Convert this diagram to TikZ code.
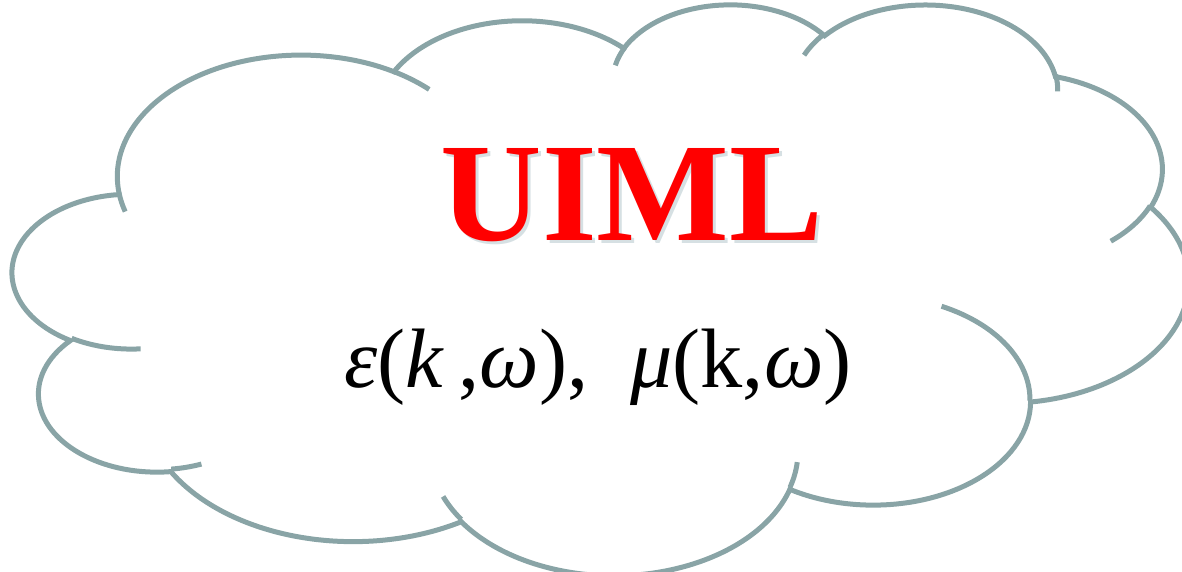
\documentclass[tikz,border=0pt]{standalone}
\usepackage{fontspec}
\setmainfont{Liberation Serif}
\usetikzlibrary{positioning}

\definecolor{cloudgray}{RGB}{137,164,166}
\definecolor{titlered}{RGB}{255,0,0}
\definecolor{titleshade}{RGB}{214,224,227}

\tikzset{
  cloudline/.style={draw=cloudgray,line width=0.1cm},
  title/.style={anchor=base,inner sep=0pt,text=titlered,font=\fontsize{80}{82}\selectfont\bfseries},
  titleshade/.style={title,text=titleshade},
  formula/.style={anchor=base,inner sep=0pt,font=\fontsize{48}{50}\selectfont}
}
% one bump of the cloud: radii, start angle, sweep (visual angles)
\newcommand{\bump}[4]{arc[x radius=#1,y radius=#2,start angle={pa(#1,#2,#3)},end angle={pa(#1,#2,#3+#4)}]}

\begin{document}
\begin{tikzpicture}[x=0.02cm,y=-0.02cm,
  declare function={pa(\rw,\rh,\ang)=atan2(\rw*sin(\ang),\rh*cos(\ang))+360*round((\ang-atan2(\rw*sin(\ang),\rh*cos(\ang)))/360);}]
  \useasboundingbox (0,0) rectangle (1182,571);
  \begin{scope}[shift={(12.9,3)},x=0.054426cm,y=-0.026435cm]
    % outline
    \draw[cloudline] (39.00,143.70)
      \bump{67.53}{91.90}{-190.4875}{123.7805}
      \bump{53.33}{72.67}{-144.1024}{89.9452}
      \bump{43.65}{59.45}{-145.8079}{99.7230}
      \bump{48.57}{65.95}{-130.9861}{117.2417}
      \bump{53.33}{72.73}{-78.7089}{109.0269}
      \bump{67.75}{92.20}{-46.2673}{130.2690}
      \bump{57.85}{78.67}{0.6250}{114.0333}
      \bump{67.52}{92.15}{22.4516}{115.1726}
      \bump{77.20}{105.43}{66.2426}{75.7110}
      \bump{43.60}{59.18}{-274.9421}{146.7356}
      \bump{43.45}{59.45}{-246.8285}{152.5189}
      -- cycle;
    % inner tails
    \draw[cloudline]
      (46.93,261.77) \bump{43.45}{59.45}{86.7420}{26.4295}
      (69.28,348.99) \bump{43.60}{59.18}{73.6105}{11.4475}
      (164.78,390.90) \bump{67.52}{92.15}{137.6242}{14.0811}
      (288.27,347.51) \bump{67.52}{92.15}{6.4533}{15.9984}
      (341.29,229.54) \bump{57.85}{78.67}{-70.2924}{70.9174}
      (417.98,153.54) \bump{53.33}{72.73}{30.3180}{27.7515}
      (383.24,54.26) \bump{48.57}{65.95}{-13.7443}{14.8589}
      (290.78,39.52) \bump{48.57}{65.95}{-149.1815}{18.1954}
      (221.41,47.20) \bump{43.65}{59.45}{-163.4943}{17.6864}
      (140.00,51.92) \bump{67.53}{91.90}{-66.7070}{12.3194}
      (41.27,157.89) \bump{67.53}{91.90}{157.6544}{11.8582};
  \end{scope}
  \node[titleshade] (uimlshade) at (635,243) {UIML};
  \node[title] (uiml) at (632,240) {UIML};
  \node[formula] (perm) at (598,387) {\textit{ε}(\textit{k}\,,\textit{ω}),\ \ \textit{μ}(k,\textit{ω})};
\end{tikzpicture}
\end{document}
